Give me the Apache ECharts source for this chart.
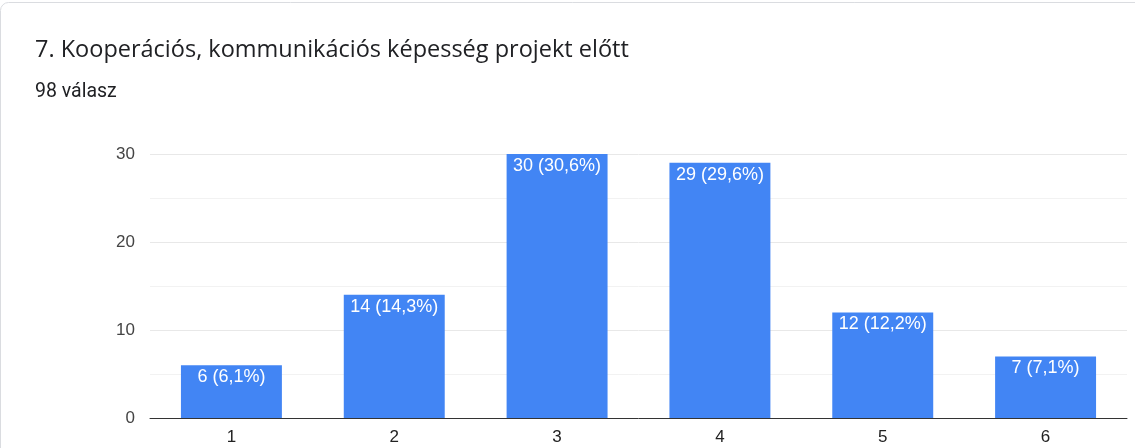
<!DOCTYPE html>
<html><head><meta charset="utf-8">
<script src="https://cdn.jsdelivr.net/npm/echarts@6/dist/echarts.min.js"></script>
<style>html,body{margin:0;padding:0;background:#fff}#c{width:1135px;height:448px}</style>
</head><body><div id="c"></div>
<script>
const titleText = '7. Kooperációs, kommunikációs képesség projekt előtt';
const subtitleText = '98 válasz';
const categories = ['1','2','3','4','5','6'];
const counts = [6, 14, 30, 29, 12, 7];
const percents = ['6,1%','14,3%','30,6%','29,6%','12,2%','7,1%'];
const yTicks = [0, 10, 20, 30];

const labelFont = '"Liberation Sans", Arial, sans-serif';
const chart = echarts.init(document.getElementById('c'));
chart.setOption({
  animation: false,
  textStyle: { fontFamily: labelFont },
  graphic: [
    { type: 'rect', shape: { x: 0.5, y: 2.5, width: 1300, height: 500, r: 8 }, style: { fill: 'none', stroke: '#dadce0', lineWidth: 1 } },
    { type: 'text', style: { x: 35, y: 50, verticalAlign: 'middle', text: titleText, fontSize: 23.5, fill: '#202124', fontFamily: '"Open Sans", Roboto, sans-serif' } },
    { type: 'text', style: { x: 35, y: 92, verticalAlign: 'middle', text: subtitleText, fontSize: 19.5, fill: '#202124', fontFamily: 'Roboto, Arial, sans-serif' } }
  ],
  grid: { left: 150, right: 8, top: 154, bottom: 30 },
  xAxis: {
    type: 'category', data: categories,
    axisLine: { lineStyle: { color: '#333', width: 1 } },
    axisTick: { show: false },
    axisLabel: { color: '#222', fontSize: 17, margin: 11 }
  },
  yAxis: {
    type: 'value', min: yTicks[0], max: yTicks[yTicks.length - 1], interval: 10,
    axisLine: { show: false }, axisTick: { show: false },
    axisLabel: { color: '#444', fontSize: 17, margin: 15 },
    splitLine: { lineStyle: { color: '#e8e8e8' } },
    minorTick: { show: false, splitNumber: 2 },
    minorSplitLine: { show: true, lineStyle: { color: '#f2f2f2' } }
  },
  series: [{
    type: 'bar', data: counts, barWidth: '62%',
    itemStyle: { color: '#4285f4' },
    label: {
      show: true, position: 'insideTop', distance: 3, color: '#fff', fontSize: 18,
      formatter: p => counts[p.dataIndex] + ' (' + percents[p.dataIndex] + ')'
    }
  }]
});
</script></body></html>
